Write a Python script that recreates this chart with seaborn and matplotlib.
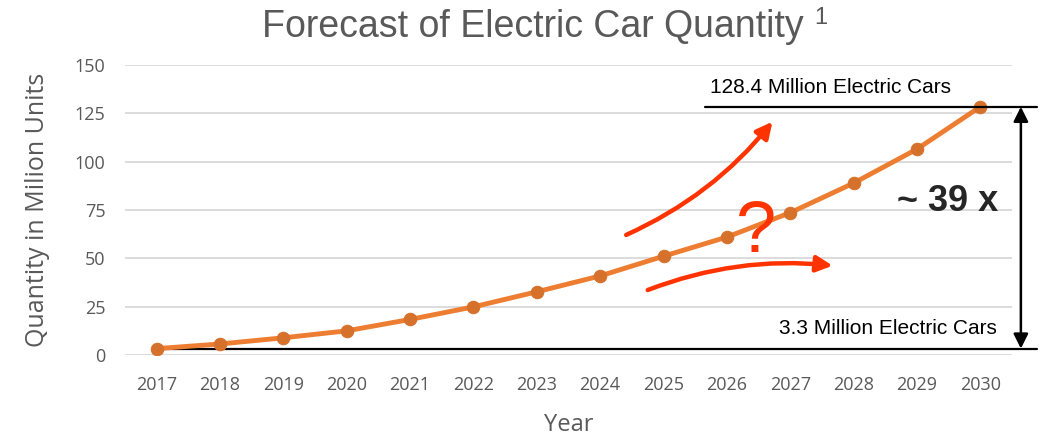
import matplotlib.pyplot as plt
import seaborn as sns
import pandas as pd
from matplotlib.patches import FancyArrowPatch

years = [2017, 2018, 2019, 2020, 2021, 2022, 2023, 2024, 2025, 2026, 2027, 2028, 2029, 2030]
quantity = [3.3, 5.7, 8.9, 12.5, 18.4, 24.9, 32.7, 40.9, 51.1, 61.0, 73.6, 88.9, 106.5, 128.4]
y_ticks = [0, 25, 50, 75, 100, 125, 150]

start_val = quantity[0]
end_val = quantity[-1]

df = pd.DataFrame({'Year': years, 'Quantity': quantity})

sns.set_theme(style='white')
plt.rcParams['font.family'] = ['Open Sans', 'DejaVu Sans']

gray = '#595959'
red = '#FF3300'

fig = plt.figure(figsize=(10.45, 4.37), dpi=100)
ax = fig.add_axes([125 / 1045, 1 - 355 / 437, 887 / 1045, 290 / 437])

sns.lineplot(data=df, x='Year', y='Quantity', ax=ax, color='#ED7D31', lw=3.5,
             marker='o', markersize=9, markerfacecolor='#D6712C',
             markeredgecolor='#D6712C', zorder=3)

ax.set_xlim(2016.5, 2030.5)
ax.set_ylim(0, 150)
ax.set_xticks(years)
ax.set_xticklabels([str(y) for y in years])
ax.set_yticks(y_ticks)
ax.grid(axis='y', color='#D9D9D9', lw=1.3)
ax.grid(axis='x', visible=False)
for s in ax.spines.values():
    s.set_visible(False)
ax.tick_params(axis='both', length=0, labelsize=13, colors=gray)
ax.tick_params(axis='x', pad=15)
ax.tick_params(axis='y', pad=14)
ax.set_xlabel('Year', fontsize=17, color=gray, labelpad=14)
ax.set_ylabel('Quantity in Milion Units', fontsize=18, color=gray, labelpad=18)

# title with small superscript footnote mark
fig.text(262 / 1045, 1 - 37 / 437, 'Forecast of Electric Car Quantity',
         ha='left', va='baseline', fontsize=27, color=gray,
         family='Liberation Sans')
fig.text(814 / 1045, 1 - 24 / 437, '1', ha='left', va='baseline',
         fontsize=17, color=gray, family='Liberation Sans')

# reference lines for start and end values
ax.plot([2025.65, 2030.9], [end_val, end_val], color='black', lw=1.6,
        clip_on=False, zorder=4)
ax.plot([2017, 2030.9], [start_val, start_val], color='black', lw=1.6,
        clip_on=False, zorder=2)
ax.text(2025.74, 135.5, f'{end_val} Million Electric Cars', fontsize=15,
        family='Liberation Sans', color='black', va='baseline')
ax.text(2030.26, 10.9, f'{start_val} Million Electric Cars', fontsize=15,
        family='Liberation Sans', color='black', va='baseline', ha='right')

ax.annotate('', xy=(2030.64, start_val), xytext=(2030.64, end_val),
            arrowprops=dict(arrowstyle='<|-|>', color='black', lw=1.8,
                            mutation_scale=22, shrinkA=0, shrinkB=0),
            annotation_clip=False)
ax.text(2029.48, 79.6, '~ 39 x', fontsize=26, fontweight='bold',
        family='Liberation Sans', ha='center', va='center')

# red trend arrows and question mark
up = FancyArrowPatch((2024.41, 62.1), (2026.72, 120.7),
                     connectionstyle='arc3,rad=0.12', arrowstyle='-|>',
                     mutation_scale=24, color=red, lw=3.2, shrinkA=0, shrinkB=0)
ax.add_patch(up)
low = FancyArrowPatch((2024.75, 33.6), (2027.67, 46.2),
                      connectionstyle='arc3,rad=-0.12', arrowstyle='-|>',
                      mutation_scale=24, color=red, lw=3.2, shrinkA=0, shrinkB=0)
ax.add_patch(low)
ax.text(2026.46, 53.3, '?', fontsize=52, color=red, family='Liberation Sans',
        ha='center', va='baseline')

fig.savefig('out.png', dpi=100)
plt.close(fig)
